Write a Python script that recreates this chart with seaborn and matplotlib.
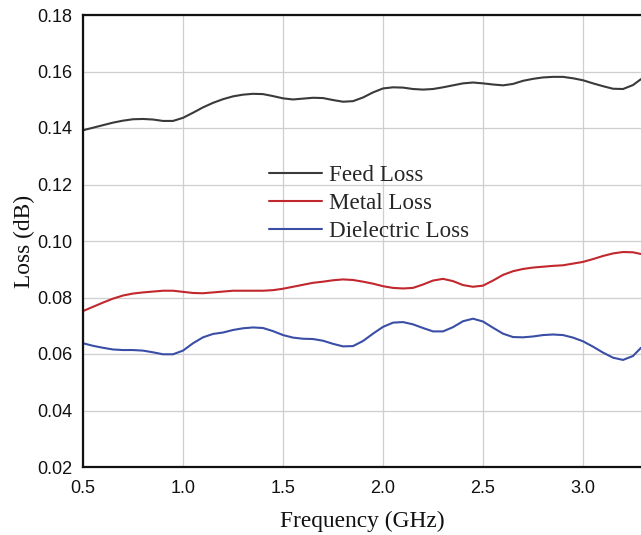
import matplotlib
matplotlib.use("Agg")
import matplotlib.pyplot as plt
import seaborn as sns
import pandas as pd

freq = [0.50, 0.55, 0.60, 0.65, 0.70, 0.75, 0.80, 0.85, 0.90, 0.95,
        1.00, 1.05, 1.10, 1.15, 1.20, 1.25, 1.30, 1.35, 1.40, 1.45,
        1.50, 1.55, 1.60, 1.65, 1.70, 1.75, 1.80, 1.85, 1.90, 1.95,
        2.00, 2.05, 2.10, 2.15, 2.20, 2.25, 2.30, 2.35, 2.40, 2.45,
        2.50, 2.55, 2.60, 2.65, 2.70, 2.75, 2.80, 2.85, 2.90, 2.95,
        3.00, 3.05, 3.10, 3.15, 3.20, 3.25, 3.29]
feed_loss = [0.1392, 0.1401, 0.1410, 0.1419, 0.1426, 0.1431, 0.1432, 0.1430, 0.1425, 0.1425,
             0.1436, 0.1454, 0.1473, 0.1489, 0.1502, 0.1512, 0.1518, 0.1521, 0.1520, 0.1513,
             0.1505, 0.1501, 0.1504, 0.1507, 0.1506, 0.1499, 0.1493, 0.1495, 0.1508, 0.1526,
             0.1540, 0.1544, 0.1543, 0.1538, 0.1536, 0.1538, 0.1544, 0.1551, 0.1558, 0.1561,
             0.1558, 0.1554, 0.1551, 0.1556, 0.1567, 0.1574, 0.1579, 0.1581, 0.1581, 0.1576,
             0.1569, 0.1558, 0.1548, 0.1539, 0.1538, 0.1552, 0.1573]
metal_loss = [0.0752, 0.0767, 0.0782, 0.0796, 0.0807, 0.0814, 0.0818, 0.0821, 0.0824, 0.0824,
              0.0820, 0.0816, 0.0815, 0.0818, 0.0821, 0.0824, 0.0824, 0.0824, 0.0824, 0.0826,
              0.0831, 0.0838, 0.0845, 0.0852, 0.0856, 0.0861, 0.0864, 0.0862, 0.0856, 0.0849,
              0.0840, 0.0834, 0.0832, 0.0834, 0.0846, 0.0860, 0.0866, 0.0858, 0.0844, 0.0838,
              0.0842, 0.0860, 0.0880, 0.0893, 0.0901, 0.0906, 0.0909, 0.0912, 0.0914, 0.0920,
              0.0926, 0.0936, 0.0947, 0.0956, 0.0961, 0.0960, 0.0954]
dielectric_loss = [0.0638, 0.0629, 0.0622, 0.0616, 0.0614, 0.0614, 0.0612, 0.0606, 0.0599, 0.0599,
                   0.0612, 0.0638, 0.0659, 0.0671, 0.0676, 0.0685, 0.0691, 0.0694, 0.0692, 0.0681,
                   0.0667, 0.0658, 0.0654, 0.0653, 0.0647, 0.0636, 0.0627, 0.0628, 0.0646, 0.0672,
                   0.0696, 0.0711, 0.0713, 0.0705, 0.0692, 0.0680, 0.0680, 0.0695, 0.0716, 0.0725,
                   0.0715, 0.0693, 0.0672, 0.0660, 0.0659, 0.0662, 0.0667, 0.0669, 0.0667, 0.0658,
                   0.0645, 0.0626, 0.0605, 0.0587, 0.0579, 0.0593, 0.0622]
series_names = ["Feed Loss", "Metal Loss", "Dielectric Loss"]
xticks = [0.5, 1.0, 1.5, 2.0, 2.5, 3.0]
yticks = [0.02, 0.04, 0.06, 0.08, 0.10, 0.12, 0.14, 0.16, 0.18]

df = pd.concat([
    pd.DataFrame({"freq": freq, "loss": vals, "series": name})
    for name, vals in zip(series_names, [feed_loss, metal_loss, dielectric_loss])
])

sns.set_theme(style="white")
plt.rcParams["font.family"] = ["Liberation Sans", "DejaVu Sans"]

fig = plt.figure(figsize=(6.41, 5.35), dpi=100)
ax = fig.add_axes([83 / 641, 1 - 467 / 535, 1 - 83 / 641, (467 - 15) / 535])

palette = {"Feed Loss": "#3a3a3a", "Metal Loss": "#c1272d", "Dielectric Loss": "#3a4ea6"}
sns.lineplot(data=df, x="freq", y="loss", hue="series", palette=palette,
             linewidth=1.5, ax=ax, sort=True, estimator=None)

ax.set_xlim(0.5, 3.29)
ax.set_ylim(0.02, 0.18)
ax.set_xticks(xticks)
ax.set_yticks(yticks)
ax.set_xticklabels([f"{t:.1f}" for t in xticks], fontsize=13, color="#111111")
ax.set_yticklabels([f"{t:.2f}" for t in yticks], fontsize=13, color="#111111")
ax.tick_params(axis="x", length=0, pad=9.5)
ax.tick_params(axis="y", length=0, pad=7.5)
ax.grid(True, color="#cfcfcf", linewidth=0.9)
ax.set_axisbelow(True)

for side in ["left", "bottom", "top"]:
    ax.spines[side].set_visible(True)
    ax.spines[side].set_color("#111111")
    ax.spines[side].set_linewidth(1.6)
ax.spines["right"].set_visible(False)

ax.set_xlabel("Frequency (GHz)", fontsize=16.8, family="Liberation Serif", color="#111111", labelpad=10)
ax.set_ylabel("Loss (dB)", fontsize=16.8, family="Liberation Serif", color="#111111", labelpad=2)

leg = ax.legend(loc="upper left", bbox_to_anchor=(0.3165, 0.689), frameon=False,
                prop={"family": "Liberation Serif", "size": 16.6},
                handlelength=2.3, handletextpad=0.3, labelspacing=0.3, borderaxespad=0)
for line in leg.get_lines():
    line.set_linewidth(1.5)

fig.savefig("out.png", dpi=100)
